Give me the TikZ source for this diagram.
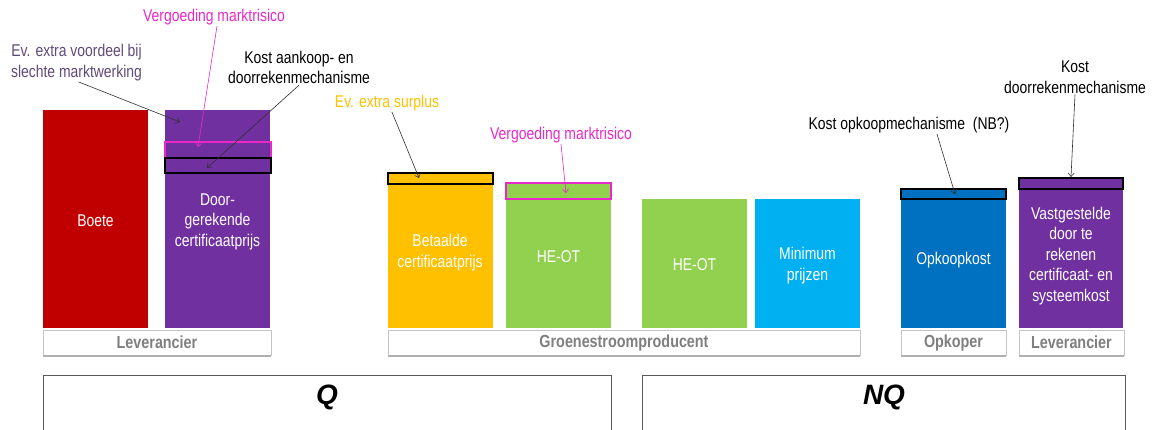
\documentclass[tikz,border=0pt]{standalone}
\usepackage{fontspec}
\setmainfont{Liberation Sans}[FakeStretch=0.82]
\newfontfamily\panefont{Liberation Sans}
\usetikzlibrary{arrows.meta,calc}

\definecolor{cRed}{HTML}{C00000}
\definecolor{cPurple}{HTML}{7030A0}
\definecolor{cYellow}{HTML}{FFC000}
\definecolor{cGreen}{HTML}{92D050}
\definecolor{cCyan}{HTML}{00B0F0}
\definecolor{cBlue}{HTML}{0070C0}
\definecolor{cMagenta}{RGB}{232,40,200}
\definecolor{cNote}{HTML}{604A7B}
\definecolor{cLabel}{HTML}{7F7F7F}
\definecolor{cFrame}{HTML}{C4C4C4}
\definecolor{cShade}{HTML}{B0B0B0}
\definecolor{cPane}{HTML}{595959}
\definecolor{cArrow}{HTML}{303030}

\newcommand\bartext{\fontsize{17}{20.5}\selectfont}
\newcommand\labeltext{\fontsize{17.5}{19}\selectfont\bfseries}

\tikzset{
  bar/.style={rectangle, inner sep=0pt, minimum width=105pt},
  bartitle/.style={inner sep=0pt, text=white, align=center, font=\bartext},
  hilite/.style={rectangle, inner sep=0pt, line width=1.6pt},
  note/.style={inner sep=1pt, align=center, font=\bartext},
  group/.style={rectangle, draw=cFrame, line width=0.9pt, fill=white,
    inner sep=0pt, minimum height=25pt, text=cLabel, font=\labeltext},
  pane/.style={rectangle, draw=cPane, line width=0.9pt, inner sep=0pt,
    minimum height=70pt},
  panetitle/.style={inner sep=0pt, font=\panefont\fontsize{28}{30}\selectfont\bfseries\itshape},
  pointer/.style={draw=cArrow, line width=0.6pt,
    -{Straight Barb[length=3.5pt,width=6pt]}},
  mpointer/.style={pointer, draw=cMagenta}
}

\begin{document}
\begin{tikzpicture}[x=1pt,y=-1pt]
\useasboundingbox (0,0) rectangle (1154,429);
\clip (0,0) rectangle (1154,429);

% bars
\node[bar, fill=cRed,    minimum height=218pt] (boete)   at (95.5,219)   {};
\node[bar, fill=cPurple, minimum height=218pt] (door)    at (217.5,219)  {};
\node[bar, fill=cYellow, minimum height=155pt] (betaald) at (440,250.5)  {};
\node[bar, fill=cGreen,  minimum height=145pt] (heotA)   at (558.5,255.5){};
\node[bar, fill=cGreen,  minimum height=129pt] (heotB)   at (694.5,263.5){};
\node[bar, fill=cCyan,   minimum height=129pt] (mini)    at (807.5,263.5){};
\node[bar, fill=cBlue,   minimum height=139pt] (opkoop)  at (953.5,258.5){};
\node[bar, fill=cPurple, minimum height=150pt, minimum width=104pt] (vast) at (1071,253) {};

% bar captions
\node[bartitle] (boeteT)   at ([yshift=-2pt]boete.center)   {Boete};
\node[bartitle] (doorT)    at ([yshift=-2.5pt]door.center)  {Door-\\gerekende\\certificaatprijs};
\node[bartitle] (betaaldT) at ([yshift=-2pt]betaald.center) {Betaalde\\certificaatprijs};
\node[bartitle] (heotAT)   at ([yshift=-1pt]heotA.center)   {HE-OT};
\node[bartitle] (heotBT)   at ([yshift=-1pt]heotB.center)   {HE-OT};
\node[bartitle] (miniT)    at ([yshift=-2pt]mini.center)    {Minimum\\prijzen};
\node[bartitle] (opkoopT)  at ([yshift=-1.5pt]opkoop.center){Opkoopkost};
\node[bartitle] (vastT)    at ([yshift=-3pt]vast.center)
  {Vastgestelde\\door te\\rekenen\\certificaat- en\\systeemkost};

% highlighted slices on top of the bars
\node[hilite, draw=cMagenta, minimum width=106pt, minimum height=16pt] (riscA) at (218,150) {};
\node[hilite, draw=black,    minimum width=106pt, minimum height=15pt] (mechA) at (218,165.5) {};
\node[hilite, draw=black,    minimum width=105pt, minimum height=11pt] (surp)  at (440.5,178.5) {};
\node[hilite, draw=cMagenta, minimum width=105pt, minimum height=16pt] (riscB) at (558.5,191) {};
\node[hilite, draw=black,    minimum width=105pt, minimum height=10pt] (mechB) at (953.5,194) {};
\node[hilite, draw=black,    minimum width=104pt, minimum height=11pt] (mechC) at (1071,183.5) {};

% group labels
\node[group, minimum width=228pt] (levA)  at (157,342.5)    {Leverancier};
\node[group, minimum width=472pt] (groen) at (624,342.5)    {Groenestroomproducent};
\node[group, minimum width=105pt] (opk)   at (953.5,342.5)  {Opkoper};
\node[group, minimum width=105pt] (levB)  at (1071.5,342.5) {Leverancier};
\foreach \g in {levA,groen,opk,levB}
  \draw[cShade, line width=1.2pt] ([yshift=-0.6pt]\g.south west) -- ([yshift=-0.6pt]\g.south east);

% market panes
\node[pane, minimum width=568pt] (paneQ)  at (327,410) {};
\node[pane, minimum width=483pt] (paneNQ) at (883.5,410) {};
\node[panetitle] (tQ)  at (327,397) {Q};
\node[panetitle] (tNQ) at (884,397) {NQ};

% annotations
\node[note, text=cMagenta] (vmA) at (214,17) {Vergoeding marktrisico};
\node[note, text=cNote] (evA) at (76.5,62.5) {Ev. extra voordeel bij\\slechte marktwerking};
\node[note] (kostA) at (299,67.5) {Kost aankoop- en\\doorrekenmechanisme};
\node[note, text=cYellow] (evB) at (387,103) {Ev. extra surplus};
\node[note, text=cMagenta] (vmB) at (561,135) {Vergoeding marktrisico};
\node[note] (kostB) at (909,125) {Kost opkoopmechanisme\hspace{4pt} (NB?)};
\node[note] (kostC) at (1075,77) {Kost\\doorrekenmechanisme};

% pointer targets
\coordinate (tEvA)   at (180,122);
\coordinate (tVmA)   at (198,147);
\coordinate (tKostA) at (207,168);
\coordinate (tEvB)   at (419,178);
\coordinate (tVmB)   at (566,193);
\coordinate (tKostB) at (955,194);
\coordinate (tKostC) at (1071,177);

\draw[pointer]  ([xshift=2pt]evA.south) -- (tEvA);
\draw[mpointer] ([xshift=3pt]vmA.south) -- (tVmA);
\draw[pointer]  (kostA.south) -- (tKostA);
\draw[pointer]  ([xshift=5pt]evB.south) -- (tEvB);
\draw[mpointer] (vmB.south) -- (tVmB);
\draw[pointer]  ([xshift=28pt]kostB.south) -- (tKostB);
\draw[pointer]  (kostC.south) -- (tKostC);
\end{tikzpicture}
\end{document}
